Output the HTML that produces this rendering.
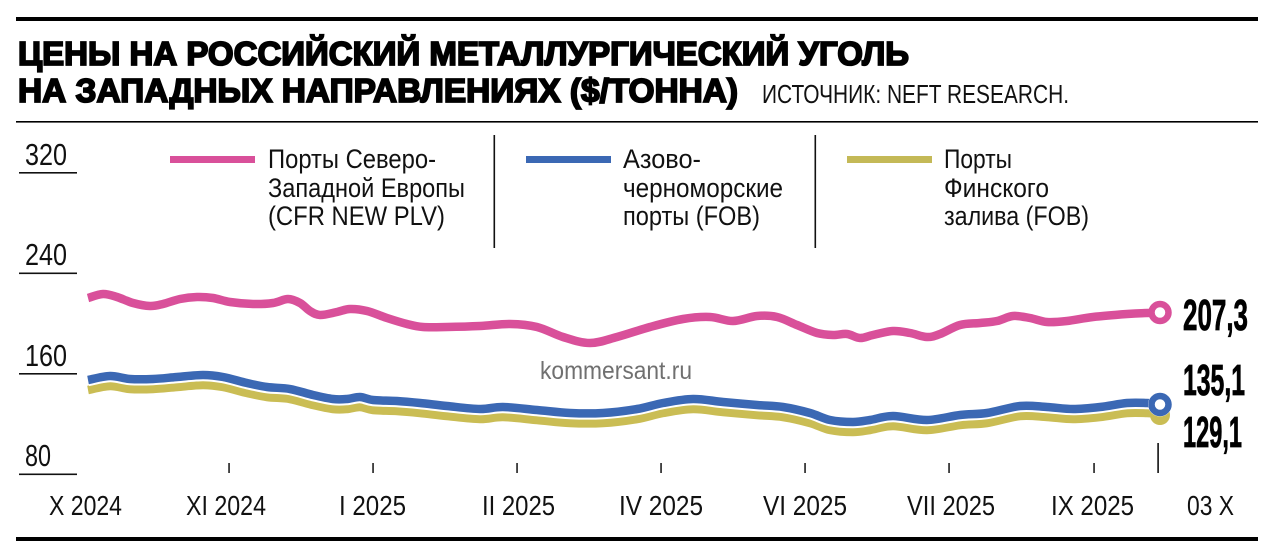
<!DOCTYPE html>
<html><head><meta charset="utf-8"><style>
html,body{margin:0;padding:0;background:#fff;}
svg{display:block;}
text{font-family:"Liberation Sans","Noto Sans CJK SC",sans-serif;}
</style></head><body>
<svg id="c" width="1280" height="559" viewBox="0 0 1280 559" xmlns="http://www.w3.org/2000/svg">
<rect x="0" y="0" width="1280" height="559" fill="#fff"/>
<!-- rules -->
<rect x="16" y="17" width="1242" height="4" fill="#000"/>
<rect x="16" y="121" width="1242" height="1.6" fill="#000"/>
<rect x="16" y="537" width="1242" height="4" fill="#000"/>
<!-- title -->
<text x="18" y="65" font-size="33" font-weight="bold" fill="#000" stroke="#000" stroke-width="1.8" textLength="891" lengthAdjust="spacingAndGlyphs">ЦЕНЫ НА РОССИЙСКИЙ МЕТАЛЛУРГИЧЕСКИЙ УГОЛЬ</text>
<text x="18" y="102" font-size="33" font-weight="bold" fill="#000" stroke="#000" stroke-width="1.8" textLength="720" lengthAdjust="spacingAndGlyphs">НА ЗАПАДНЫХ НАПРАВЛЕНИЯХ ($/ТОННА)</text>
<text x="762" y="103" font-size="26" fill="#111" textLength="307" lengthAdjust="spacingAndGlyphs">ИСТОЧНИК: NEFT RESEARCH.</text>
<!-- legend -->
<rect x="170" y="156" width="85" height="7" fill="#d9509a"/>
<g font-size="27" fill="#111">
<text x="268" y="168" textLength="168" lengthAdjust="spacingAndGlyphs">Порты Северо-</text>
<text x="268" y="197" textLength="197" lengthAdjust="spacingAndGlyphs">Западной Европы</text>
<text x="268" y="225" textLength="177" lengthAdjust="spacingAndGlyphs">(CFR NEW PLV)</text>
</g>
<rect x="493.5" y="135" width="1.6" height="113" fill="#111"/>
<rect x="526" y="156" width="85" height="7" fill="#3b68b4"/>
<g font-size="27" fill="#111">
<text x="623" y="168" textLength="78" lengthAdjust="spacingAndGlyphs">Азово-</text>
<text x="623" y="197" textLength="160" lengthAdjust="spacingAndGlyphs">черноморские</text>
<text x="623" y="225" textLength="137" lengthAdjust="spacingAndGlyphs">порты (FOB)</text>
</g>
<rect x="814.5" y="135" width="1.6" height="113" fill="#111"/>
<rect x="847" y="156" width="85" height="7" fill="#c4b957"/>
<g font-size="27" fill="#111">
<text x="944" y="168" textLength="68" lengthAdjust="spacingAndGlyphs">Порты</text>
<text x="944" y="197" textLength="105" lengthAdjust="spacingAndGlyphs">Финского</text>
<text x="944" y="225" textLength="145" lengthAdjust="spacingAndGlyphs">залива (FOB)</text>
</g>
<!-- y axis -->
<g font-size="31" fill="#111">
<text x="25" y="165" textLength="42" lengthAdjust="spacingAndGlyphs">320</text>
<text x="25" y="265" textLength="42" lengthAdjust="spacingAndGlyphs">240</text>
<text x="25" y="366" textLength="42" lengthAdjust="spacingAndGlyphs">160</text>
<text x="25" y="466" textLength="26" lengthAdjust="spacingAndGlyphs">80</text>
</g>
<g fill="#111">
<rect x="19" y="172" width="58" height="1.6"/>
<rect x="19" y="272.5" width="58" height="1.6"/>
<rect x="19" y="373" width="58" height="1.6"/>
<rect x="19" y="473.5" width="58" height="1.6"/>
</g>
<!-- watermark -->
<text x="540" y="379" font-size="25" fill="#707070" textLength="152" lengthAdjust="spacingAndGlyphs">kommersant.ru</text>
<!-- x ticks -->
<g fill="#111">
<rect x="228.3" y="463" width="1.5" height="10"/>
<rect x="372.3" y="463" width="1.5" height="10"/>
<rect x="516.3" y="463" width="1.5" height="10"/>
<rect x="660.3" y="463" width="1.5" height="10"/>
<rect x="804.3" y="463" width="1.5" height="10"/>
<rect x="948.3" y="463" width="1.5" height="10"/>
<rect x="1093.3" y="463" width="1.5" height="10"/>
<rect x="1157.3" y="443" width="1.6" height="30"/>
</g>
<g font-size="28" fill="#111" text-anchor="middle">
<text x="85.5" y="515" textLength="73" lengthAdjust="spacingAndGlyphs">X 2024</text>
<text x="226" y="515" textLength="80" lengthAdjust="spacingAndGlyphs">XI 2024</text>
<text x="372.5" y="515" textLength="67" lengthAdjust="spacingAndGlyphs">I 2025</text>
<text x="518.5" y="515" textLength="73" lengthAdjust="spacingAndGlyphs">II 2025</text>
<text x="661" y="515" textLength="84" lengthAdjust="spacingAndGlyphs">IV 2025</text>
<text x="805" y="515" textLength="84" lengthAdjust="spacingAndGlyphs">VI 2025</text>
<text x="951" y="515" textLength="88" lengthAdjust="spacingAndGlyphs">VII 2025</text>
<text x="1092.5" y="515" textLength="83" lengthAdjust="spacingAndGlyphs">IX 2025</text>
<text x="1210.5" y="515" textLength="47" lengthAdjust="spacingAndGlyphs">03 X</text>
</g>
<!-- series -->
<g fill="none" stroke-linejoin="round" stroke-linecap="butt">
<polyline class="sm" stroke="#cabd54" stroke-width="8.5" points="88,390 110,386 130,389 153,389 177,387 203,385 223,387 247,393 267,397 290,399 313,405 333,409 347,409 360,407 373,410 397,411 420,413 447,416 480,419 503,417 537,420 570,423 603,423 637,419 663,413 693,409 723,412 757,415 783,417 810,423 830,430 853,432 870,430 893,426 927,430 960,425 987,423 1020,416 1047,417 1073,419 1100,417 1127,413 1147,413 1160,414"/>
<polyline class="sm" stroke="#fff" stroke-width="12.5" points="88,380 110,376 130,379 153,379 177,377 203,375 223,377 247,383 267,387 290,389 313,395 333,399 347,399 360,397 373,400 397,401 420,403 447,406 480,409 503,407 537,410 570,413 603,413 637,409 663,403 693,399 723,402 757,405 783,407 810,413 830,420 853,422 870,420 893,416 927,420 960,415 987,413 1020,406 1047,407 1073,409 1100,407 1127,403 1147,403 1160,404"/>
<polyline class="sm" stroke="#3b68b4" stroke-width="8.5" points="88,380 110,376 130,379 153,379 177,377 203,375 223,377 247,383 267,387 290,389 313,395 333,399 347,399 360,397 373,400 397,401 420,403 447,406 480,409 503,407 537,410 570,413 603,413 637,409 663,403 693,399 723,402 757,405 783,407 810,413 830,420 853,422 870,420 893,416 927,420 960,415 987,413 1020,406 1047,407 1073,409 1100,407 1127,403 1147,403 1160,404"/>
<polyline class="sm" stroke="#d9509a" stroke-width="8.5" points="88,298 103,294 117,297 133,303 150,306 163,304 180,299 197,297 213,298 230,302 253,304 273,303 288,299 300,303 310,311 320,315 337,312 350,309 367,311 387,318 407,324 423,327 447,327 480,326 510,324 537,327 563,337 590,343 617,337 650,327 683,319 710,317 733,321 757,316 777,317 797,325 817,333 833,335 847,334 860,338 873,335 893,331 910,333 927,337 940,334 960,325 980,323 997,321 1013,316 1030,318 1047,322 1067,321 1093,317 1127,314 1147,313 1160,313"/>
</g>
<!-- end markers -->
<circle cx="1160" cy="415" r="10" fill="#cabd54"/>
<circle cx="1160" cy="404.5" r="12" fill="#fff"/>
<circle cx="1160" cy="404.5" r="8.5" fill="#fff" stroke="#3b68b4" stroke-width="6.5"/>
<circle cx="1160" cy="312.5" r="8.5" fill="#fff" stroke="#d9509a" stroke-width="6.5"/>
<!-- end values -->
<g font-size="44" font-weight="bold" fill="#000" stroke="#000" stroke-width="0.8">
<text x="1183" y="330" textLength="65" lengthAdjust="spacingAndGlyphs">207,3</text>
<text x="1183" y="395" textLength="62" lengthAdjust="spacingAndGlyphs">135,1</text>
<text x="1183" y="447" textLength="59" lengthAdjust="spacingAndGlyphs">129,1</text>
</g>
</svg>
<script>
(function(){
  var ns="http://www.w3.org/2000/svg";
  var pls=document.querySelectorAll("polyline.sm");
  for(var k=0;k<pls.length;k++){
    var pl=pls[k];
    var raw=pl.getAttribute("points").trim().split(/\s+/).map(function(s){var a=s.split(",");return [+a[0],+a[1]];});
    var d="M"+raw[0][0]+","+raw[0][1];
    for(var i=0;i<raw.length-1;i++){
      var p0=raw[i-1]||raw[i],p1=raw[i],p2=raw[i+1],p3=raw[i+2]||raw[i+1];
      var c1x=p1[0]+(p2[0]-p0[0])/6,c1y=p1[1]+(p2[1]-p0[1])/6;
      var c2x=p2[0]-(p3[0]-p1[0])/6,c2y=p2[1]-(p3[1]-p1[1])/6;
      d+=" C"+c1x.toFixed(2)+","+c1y.toFixed(2)+" "+c2x.toFixed(2)+","+c2y.toFixed(2)+" "+p2[0]+","+p2[1];
    }
    var path=document.createElementNS(ns,"path");
    path.setAttribute("d",d);
    path.setAttribute("stroke",pl.getAttribute("stroke"));
    path.setAttribute("stroke-width",pl.getAttribute("stroke-width"));
    path.setAttribute("fill","none");
    path.setAttribute("stroke-linejoin","round");
    pl.parentNode.replaceChild(path,pl);
  }
})();
</script>
</body></html>
